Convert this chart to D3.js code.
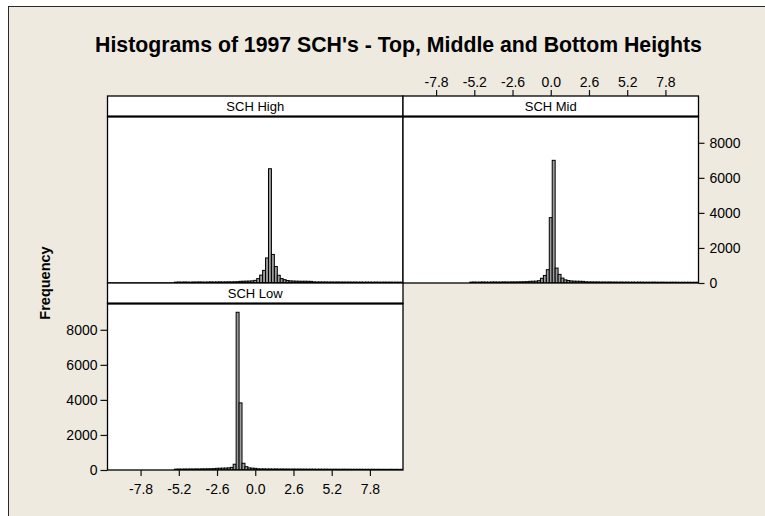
<!DOCTYPE html>
<html>
<head>
<meta charset="utf-8">
<script src="https://cdn.jsdelivr.net/npm/d3@7"></script>
<style>
  body { margin: 0; background: #ffffff; }
  svg { display: block; }
  .tick text { font-family: "Liberation Sans", Arial, sans-serif; font-size: 14px; fill: #000; }
  .tick line { stroke: #111; }
</style>
</head>
<body>
<svg id="chart" width="765" height="516"></svg>
<script>
// Histogram bins of width 0.2 starting at -5.5 (bin centres -5.4 ... 10.0)
const binStart = -5.5;
const binWidth = 0.2;

// Frequencies per bin, top height
const countsHigh = [
  48, 55, 50, 58, 52, 47, 56, 53, 60, 55, 51, 57, 62, 56, 60, 64, 58, 63, 66, 61, 68, 72,
  95, 100, 105, 110, 120, 150, 250, 450, 720, 1430, 6520, 1630, 940, 440, 250, 190, 140, 120, 110, 105, 100, 98, 100, 96, 92,
  62, 58, 60, 56, 59, 54, 57, 53, 58, 52, 55, 51, 54, 50, 53, 49, 52, 48, 51, 50, 47, 52, 48, 46, 50, 47, 49, 45, 48, 46, 44
];

// Frequencies per bin, middle height
const countsMid = [
  50, 55, 47, 53, 58, 52, 49, 56, 59, 53, 55, 60, 57, 56, 62, 59, 63, 66, 70, 76,
  95, 100, 105, 130, 270, 430, 760, 3730, 7000, 850, 490, 280, 180, 140, 115, 105, 100, 98, 92,
  66, 60, 62, 57, 59, 54, 56, 52, 57, 51, 54, 49, 53, 48, 52, 47, 51, 46, 50, 48,
  45, 47, 44, 49, 45, 43, 47, 44, 41, 46, 43, 44, 40, 43, 41, 44, 40, 42, 39
];

// Frequencies per bin, bottom height
const countsLow = [
  48, 54, 50, 57, 52, 59, 55, 61, 57, 64, 62, 67, 70, 76,
  95, 100, 105, 110, 120, 150, 330, 9000, 3830, 385, 190, 120, 105, 95,
  66, 60, 63, 57, 59, 55, 60, 53, 57, 52, 55, 50, 54, 49, 52, 48, 51, 47, 50, 48,
  45, 48, 44, 47, 45, 42, 46, 43, 41, 45, 42, 43, 40, 42, 41, 43, 39, 41, 38, 42,
  39, 41, 37, 39, 36, 40, 37, 39, 36, 38
];

const panelNames = ["SCH High", "SCH Mid", "SCH Low"];
const xTicks = [-7.8, -5.2, -2.6, 0.0, 2.6, 5.2, 7.8];
const yTicks = [0, 2000, 4000, 6000, 8000];
const xDomain = [-10.05, 10.05];
const yDomain = [0, 9500];
const titleText = "Histograms of 1997 SCH's - Top, Middle and Bottom Heights";
const yAxisLabel = "Frequency";

// ---- layout ----
const panelW = 295.5;
const headerH = 20.5;
const plotH = 166.5;
const colX = [107.5, 403];
const topHeaderY = 96;
const lowHeaderY = topHeaderY + headerH + plotH;
const barFill = "#9c9c9c";

const svg = d3.select("#chart");

// framed beige background
svg.append("rect")
  .attr("x", 8.5).attr("y", 6.5)
  .attr("width", 900).attr("height", 700)
  .attr("fill", "#eeeae0")
  .attr("stroke", "#2a2a2a").attr("stroke-width", 1);

const x = d3.scaleLinear().domain(xDomain).range([0, panelW]);
const y = d3.scaleLinear().domain(yDomain).range([plotH, 0]);

function toBins(counts) {
  return counts.map((c, i) => ({
    x0: binStart + i * binWidth,
    x1: binStart + (i + 1) * binWidth,
    count: c
  }));
}

const panels = [
  { name: panelNames[0], counts: countsHigh, left: colX[0], headerY: topHeaderY },
  { name: panelNames[1], counts: countsMid,  left: colX[1], headerY: topHeaderY },
  { name: panelNames[2], counts: countsLow,  left: colX[0], headerY: lowHeaderY }
];

panels.forEach((p, k) => {
  const g = svg.append("g").attr("transform", `translate(${p.left},${p.headerY})`);

  // plot area
  const plot = g.append("g").attr("transform", `translate(0,${headerH})`);
  plot.append("rect")
    .attr("width", panelW).attr("height", plotH)
    .attr("fill", "#ffffff");

  const clipId = "clip" + k;
  plot.append("clipPath").attr("id", clipId)
    .append("rect").attr("width", panelW).attr("height", plotH);

  plot.append("g").attr("clip-path", `url(#${clipId})`)
    .selectAll("rect")
    .data(toBins(p.counts))
    .join("rect")
    .attr("x", d => x(d.x0))
    .attr("width", d => x(d.x1) - x(d.x0))
    .attr("y", d => y(d.count))
    .attr("height", d => y(0) - y(d.count))
    .attr("fill", barFill)
    .attr("stroke", "#000")
    .attr("stroke-width", 1);

  plot.append("rect")
    .attr("width", panelW).attr("height", plotH)
    .attr("fill", "none").attr("stroke", "#000").attr("stroke-width", 1.3);

  // strip header
  g.append("rect")
    .attr("width", panelW).attr("height", headerH)
    .attr("fill", "#ffffff").attr("stroke", "#000").attr("stroke-width", 1.3);
  g.append("line")
    .attr("x1", 0).attr("x2", panelW)
    .attr("y1", headerH).attr("y2", headerH)
    .attr("stroke", "#000").attr("stroke-width", 2);
  g.append("text")
    .attr("x", panelW / 2).attr("y", headerH / 2 + 0.5)
    .attr("text-anchor", "middle")
    .attr("dominant-baseline", "central")
    .style("font-family", "'Liberation Sans', Arial, sans-serif")
    .style("font-size", "13px")
    .attr("fill", "#000")
    .text(p.name);
});

const fmtX = d => d.toFixed(1);

// top x axis above the middle panel
const axTop = svg.append("g")
  .attr("transform", `translate(${colX[1]},${topHeaderY})`)
  .call(d3.axisTop(x).tickValues(xTicks).tickFormat(fmtX).tickSize(6).tickPadding(3).tickSizeOuter(0));
axTop.select(".domain").remove();

// right y axis beside the middle panel
const axRight = svg.append("g")
  .attr("transform", `translate(${colX[1] + panelW},${topHeaderY + headerH})`)
  .call(d3.axisRight(y).tickValues(yTicks).tickFormat(d3.format("d")).tickSize(6).tickPadding(5).tickSizeOuter(0));
axRight.select(".domain").remove();

// left y axis of the bottom panel
const axLeft = svg.append("g")
  .attr("transform", `translate(${colX[0]},${lowHeaderY + headerH})`)
  .call(d3.axisLeft(y).tickValues(yTicks).tickFormat(d3.format("d")).tickSize(7).tickPadding(3).tickSizeOuter(0));
axLeft.select(".domain").remove();

// bottom x axis of the bottom panel
const axBottom = svg.append("g")
  .attr("transform", `translate(${colX[0]},${lowHeaderY + headerH + plotH})`)
  .call(d3.axisBottom(x).tickValues(xTicks).tickFormat(fmtX).tickSize(6).tickPadding(8).tickSizeOuter(0));
axBottom.select(".domain").remove();

svg.selectAll(".tick line").attr("stroke-width", 1.2);

// title, sized to span its line
const title = svg.append("text")
  .attr("x", 398.5).attr("y", 52)
  .attr("text-anchor", "middle")
  .style("font-family", "'Liberation Sans', Arial, sans-serif")
  .style("font-weight", "bold")
  .style("font-size", "18px")
  .attr("fill", "#000")
  .text(titleText);
const tLen = title.node().getComputedTextLength();
title.style("font-size", (18 * 607 / tLen).toFixed(2) + "px");

// shared y label
svg.append("text")
  .attr("transform", "translate(45,283) rotate(-90)")
  .attr("text-anchor", "middle")
  .attr("dominant-baseline", "central")
  .style("font-family", "'Liberation Sans', Arial, sans-serif")
  .style("font-weight", "bold")
  .style("font-size", "14.5px")
  .attr("fill", "#000")
  .text(yAxisLabel);
</script>
</body>
</html>
